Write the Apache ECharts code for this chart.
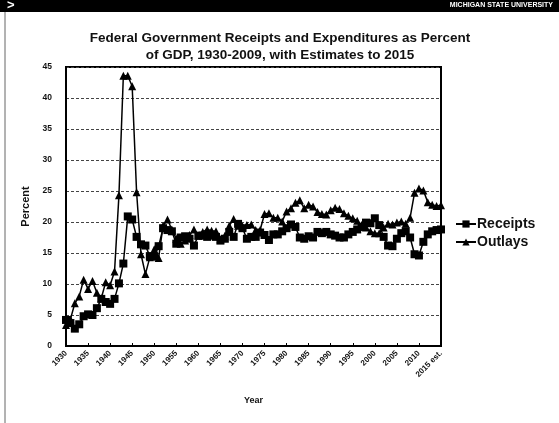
<!DOCTYPE html>
<html>
<head>
<meta charset="utf-8">
<script src="https://cdn.jsdelivr.net/npm/echarts@6/dist/echarts.min.js"></script>
<style>
  body { margin: 0; background: #fff; }
  #myChart { width: 559px; height: 423px; }
</style>
</head>
<body>
<div id="myChart"></div>
<script>
// years 1930 - 2015 (last one is an estimate)
var years = [];
for (var y = 1930; y <= 2014; y++) years.push(String(y));
years.push("2015 est.");

// receipts as percent of GDP
var receipts = [
  4.2, 3.7, 2.8, 3.5, 4.8, 5.1, 5.0, 6.1, 7.6, 7.1,
  6.8, 7.6, 10.1, 13.3, 20.9, 20.4, 17.6, 16.4, 16.2, 14.5,
  14.4, 16.1, 19.0, 18.7, 18.5, 16.5, 17.5, 17.7, 17.3, 16.2,
  17.8, 17.8, 17.6, 17.8, 17.6, 17.0, 17.3, 18.4, 17.6, 19.7,
  19.0, 17.3, 17.6, 17.6, 18.3, 17.9, 17.1, 18.0, 18.0, 18.5,
  19.0, 19.6, 19.2, 17.5, 17.3, 17.7, 17.5, 18.4, 18.2, 18.4,
  18.0, 17.8, 17.5, 17.5, 18.0, 18.4, 18.8, 19.2, 19.9, 19.8,
  20.6, 19.5, 17.6, 16.2, 16.1, 17.3, 18.2, 18.5, 17.5, 14.8,
  14.6, 16.8, 18.0, 18.5, 18.7, 18.8
];

// outlays as percent of GDP
var outlays = [
  3.4, 4.3, 6.9, 8.0, 10.7, 9.2, 10.5, 8.6, 7.7, 10.3,
  9.8, 12.0, 24.3, 43.6, 43.6, 41.9, 24.8, 14.8, 11.6, 14.3,
  15.6, 14.2, 19.4, 20.4, 18.8, 17.3, 16.5, 17.0, 17.9, 18.8,
  17.8, 18.4, 18.8, 18.6, 18.5, 17.2, 17.8, 19.4, 20.5, 19.4,
  19.3, 19.5, 19.6, 18.7, 18.7, 21.3, 21.4, 20.7, 20.7, 20.1,
  21.7, 22.2, 23.1, 23.5, 22.2, 22.8, 22.5, 21.6, 21.3, 21.2,
  21.9, 22.3, 22.1, 21.4, 21.0, 20.6, 20.2, 19.5, 19.1, 18.5,
  18.2, 18.2, 19.1, 19.7, 19.6, 19.9, 20.1, 19.7, 20.7, 24.7,
  25.4, 25.1, 23.2, 22.8, 22.6, 22.7
];

var yTicks = [0, 5, 10, 15, 20, 25, 30, 35, 40, 45];

var font = "Liberation Sans, Arial, sans-serif";
var myChart = echarts.init(document.getElementById("myChart"));

myChart.setOption({
  animation: false,
  backgroundColor: "#fff",
  title: {
    text: "Federal Government Receipts and Expenditures as Percent\nof GDP, 1930-2009, with Estimates to 2015",
    left: 275,
    top: 25,
    textAlign: "center",
    textStyle: {
      fontFamily: font,
      fontWeight: "bold",
      fontSize: 13.5,
      lineHeight: 17,
      color: "#111"
    }
  },
  graphic: [
    { type: "rect", shape: { x: 0, y: 0, width: 559, height: 12 }, style: { fill: "#000" } },
    { type: "text", left: 7, top: -1, style: { text: ">", fill: "#fff", font: "bold 13px " + font } },
    { type: "text", right: 6, top: 2, style: { text: "MICHIGAN STATE UNIVERSITY", fill: "#fff", font: "bold 7px " + font } },
    { type: "line", shape: { x1: 5, y1: 12, x2: 5, y2: 423 }, style: { stroke: "#666", lineWidth: 1 } }
  ],
  legend: {
    orient: "vertical",
    left: 450,
    top: 212,
    itemWidth: 20,
    itemHeight: 9,
    itemGap: 4,
    data: ["Receipts", "Outlays"],
    textStyle: {
      fontFamily: font,
      fontWeight: "bold",
      fontSize: 14,
      padding: [0, 0, 0, -4],
      color: "#111"
    }
  },
  grid: {
    left: 66,
    top: 67,
    right: 118,
    bottom: 77,
    show: true,
    borderColor: "#000",
    borderWidth: 2
  },
  xAxis: {
    type: "category",
    data: years,
    boundaryGap: false,
    name: "Year",
    nameLocation: "middle",
    nameGap: 50,
    nameTextStyle: { fontFamily: font, fontWeight: "bold", fontSize: 9, color: "#111" },
    axisLine: { lineStyle: { color: "#000", width: 2 } },
    axisTick: { show: true, inside: true, length: 3, interval: 4, lineStyle: { color: "#000" } },
    axisLabel: {
      interval: 4,
      rotate: 45,
      margin: 6,
      fontFamily: font,
      fontWeight: "bold",
      fontSize: 8,
      color: "#111"
    },
    splitLine: { show: false }
  },
  yAxis: {
    type: "value",
    min: 0,
    max: 45,
    interval: 5,
    name: "Percent",
    nameLocation: "middle",
    nameGap: 28,
    nameTextStyle: { fontFamily: font, fontWeight: "bold", fontSize: 11, color: "#111" },
    axisLine: { show: true, lineStyle: { color: "#000", width: 2 } },
    axisTick: { show: false },
    axisLabel: {
      margin: 14,
      fontFamily: font,
      fontWeight: "bold",
      fontSize: 8.5,
      color: "#111",
      formatter: function (v) { return yTicks.indexOf(v) >= 0 ? String(v) : ""; }
    },
    splitLine: { lineStyle: { color: "#444", width: 1, type: [3, 2] } }
  },
  series: [
    {
      name: "Receipts",
      type: "line",
      data: receipts,
      symbol: "rect",
      symbolSize: 8,
      showAllSymbol: true,
      lineStyle: { color: "#000", width: 1.5 },
      itemStyle: { color: "#000" }
    },
    {
      name: "Outlays",
      type: "line",
      data: outlays,
      symbol: "triangle",
      symbolSize: 8,
      showAllSymbol: true,
      lineStyle: { color: "#000", width: 1.5 },
      itemStyle: { color: "#000" }
    }
  ]
});
</script>
</body>
</html>
